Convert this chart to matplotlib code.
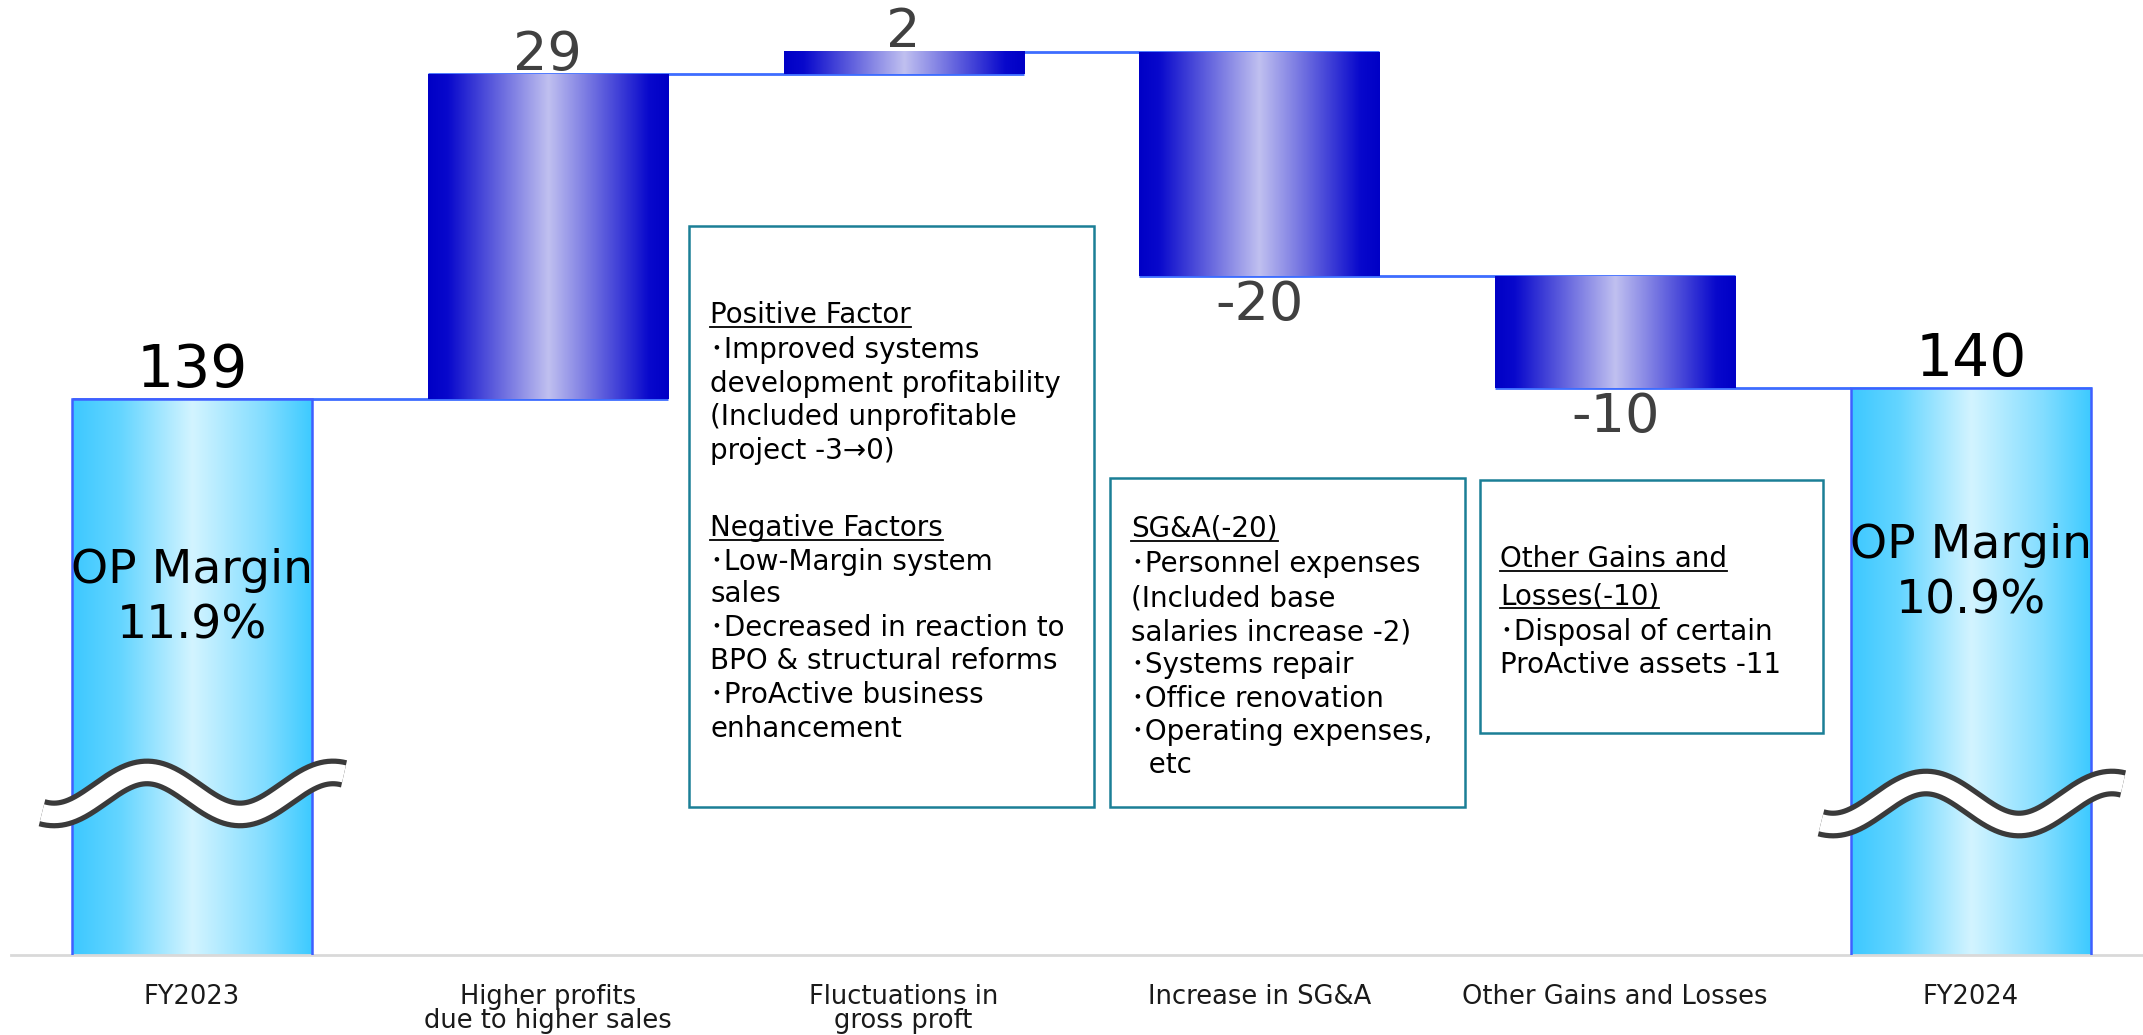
import numpy as np
import matplotlib.pyplot as plt
from matplotlib.colors import LinearSegmentedColormap
from matplotlib.transforms import ScaledTranslation
from matplotlib.lines import Line2D
from matplotlib.patches import Rectangle

plt.rcParams['font.family'] = ['DejaVu Sans', 'Noto Sans CJK JP']

# operating profit bridge, FY2023 -> FY2024
categories = ["FY2023", "Higher profits\ndue to higher sales", "Fluctuations in\ngross proft",
              "Increase in SG&A", "Other Gains and Losses", "FY2024"]
start_total = 139
changes = [29, 2, -20, -10]
end_total = 140
margins = ["11.9%", "10.9%"]

box1_lines = [("Positive Factor", True), ("･Improved systems", False),
              ("development profitability", False), ("(Included unprofitable", False),
              ("project -3→0)", False), ("Negative Factors", True),
              ("･Low-Margin system", False), ("sales", False),
              ("･Decreased in reaction to", False), ("BPO & structural reforms", False),
              ("･ProActive business", False), ("enhancement", False)]
box2_lines = [("SG&A(-20)", True), ("･Personnel expenses", False), ("(Included base", False),
              ("salaries increase -2)", False), ("･Systems repair", False),
              ("･Office renovation", False), ("･Operating expenses,", False), ("  etc", False)]
box3_lines = [("Other Gains and", True), ("Losses(-10)", True),
              ("･Disposal of certain", False), ("ProActive assets -11", False)]

W, H = 2143, 1035
fig = plt.figure(figsize=(W / 100, H / 100), dpi=100)
ax = fig.add_axes([0, 80 / H, 1, 955 / H])

x = np.arange(len(categories))
width = 0.675
heights = [start_total] + changes + [end_total]
levels = start_total + np.cumsum([0] + changes)
bottoms = [0] + list(levels[:-1]) + [0]

bars = ax.bar(x, heights, width, bottom=bottoms, facecolor='none', edgecolor='none', zorder=3)

end_cmap = LinearSegmentedColormap.from_list('ends', [
    (0, '#3cc8ff'), (0.2, '#64d5ff'), (0.5, '#d3f4ff'), (0.8, '#82ddff'), (1, '#3ccaff')])
step_cmap = LinearSegmentedColormap.from_list('steps', [
    (0, '#0000c6'), (0.08, '#0808cc'), (0.5, '#c0c0f0'), (0.92, '#0808cc'), (1, '#0000c6')])
grad = np.linspace(0, 1, 256).reshape(1, -1)

for i, patch in enumerate(bars):
    x0, y0 = patch.get_x(), patch.get_y()
    w, h = patch.get_width(), patch.get_height()
    is_end = i in (0, len(bars) - 1)
    ax.imshow(grad, cmap=end_cmap if is_end else step_cmap, aspect='auto',
              extent=(x0, x0 + w, min(y0, y0 + h), max(y0, y0 + h)),
              interpolation='bilinear', zorder=2)
    if is_end:
        patch.set_edgecolor('#3f5fff')
        patch.set_linewidth(1.8)

# connector lines between bars
running = [start_total] + list(levels[1:])
for i in range(len(x) - 1):
    ax.hlines(running[i], x[i] - width / 2, x[i + 1] + width / 2,
              color='#3d6dff', lw=2, zorder=1.5)

# value labels
ax.annotate(str(start_total), xy=(x[0], start_total), xytext=(0, 8.6), textcoords='offset points',
            ha='center', va='baseline', fontsize=42, color='black', zorder=5)
ax.annotate(str(end_total), xy=(x[-1], end_total), xytext=(0, 8.6), textcoords='offset points',
            ha='center', va='baseline', fontsize=42, color='black', zorder=5)
for i, c in enumerate(changes):
    top = bottoms[i + 1] + c
    if c > 0:
        ax.annotate(str(c), xy=(x[i + 1], top), xytext=(0, 3.5), textcoords='offset points',
                    ha='center', va='baseline', fontsize=39, color='#404040', zorder=5)
    else:
        ax.annotate(str(c), xy=(x[i + 1], top), xytext=(0, -2.5), textcoords='offset points',
                    ha='center', va='top', fontsize=39, color='#404040', zorder=5)

# OP margin inside the total bars
for xi, total, m, drop in zip([x[0], x[-1]], [start_total, end_total], margins, [17.8, 16.5]):
    ax.text(xi, total - drop, "OP Margin\n" + m, ha='center', va='center',
            fontsize=34, color='black', zorder=6, linespacing=1.3)

# axis break marks on the total bars
wx = np.linspace(-150, 152, 300)
wy = 21 * np.cos(2 * np.pi * (wx + 45) / 186)
for xi, yb in [(x[0], 103.8), (x[-1], 102.9)]:
    tr = fig.dpi_scale_trans + ScaledTranslation(xi, yb, ax.transData)
    ax.plot(wx / 100, wy / 100, transform=tr, color='#3a3a3a', lw=20,
            solid_capstyle='butt', zorder=4, clip_on=False)
    ax.plot(wx / 100, wy / 100, transform=tr, color='white', lw=12.5,
            solid_capstyle='butt', zorder=4.1, clip_on=False)

xmin, xmax = -192 / 355.8, (W - 192) / 355.8
ax.set_xlim(xmin, xmax)
ax.set_ylim(139 - 555.8 / 11.2, 139 + 399.2 / 11.2)
ax.set_xticks(x)
ax.set_xticklabels(categories, fontsize=18.5, color='#1a1a1a', linespacing=0.88)
ax.tick_params(axis='x', length=0, pad=21)
ax.set_yticks([])
for s in ['top', 'left', 'right']:
    ax.spines[s].set_visible(False)
ax.spines['bottom'].set_color('#d9d9d9')
ax.spines['bottom'].set_linewidth(2)
ax.spines['bottom'].set_bounds(xmin + 11 / 355.8, xmax)

# explanation boxes
boxes = [
    ((689, 226, 1094, 807), 710, [323, 358, 392, 425, 459, 536, 570, 602, 636, 669, 703, 737], box1_lines),
    ((1110, 478, 1465, 807), 1131, [537, 572, 607, 640, 673, 707, 740, 773], box2_lines),
    ((1480, 480, 1823, 733), 1500, [567, 604, 640, 673], box3_lines),
]
headers = []
for (bx0, by0, bx1, by1), tx, ys, lines in boxes:
    fig.add_artist(Rectangle((bx0 / W, 1 - by1 / H), (bx1 - bx0) / W, (by1 - by0) / H,
                             transform=fig.transFigure, facecolor='white',
                             edgecolor='#1b7f96', lw=1.8, zorder=3))
    for yb, (txt, head) in zip(ys, lines):
        t = fig.text(tx / W, 1 - yb / H, txt, ha='left', va='baseline',
                     fontsize=20, color='black', zorder=4)
        if head:
            headers.append((t, yb))

fig.canvas.draw()
rend = fig.canvas.get_renderer()
for t, yb in headers:
    bb = t.get_window_extent(rend)
    uy = 1 - (yb + 4) / H
    fig.add_artist(Line2D([bb.x0 / W, bb.x1 / W], [uy, uy], transform=fig.transFigure,
                          color='black', lw=1.3, zorder=5))

fig.savefig("out.png", dpi=100, facecolor='white')
